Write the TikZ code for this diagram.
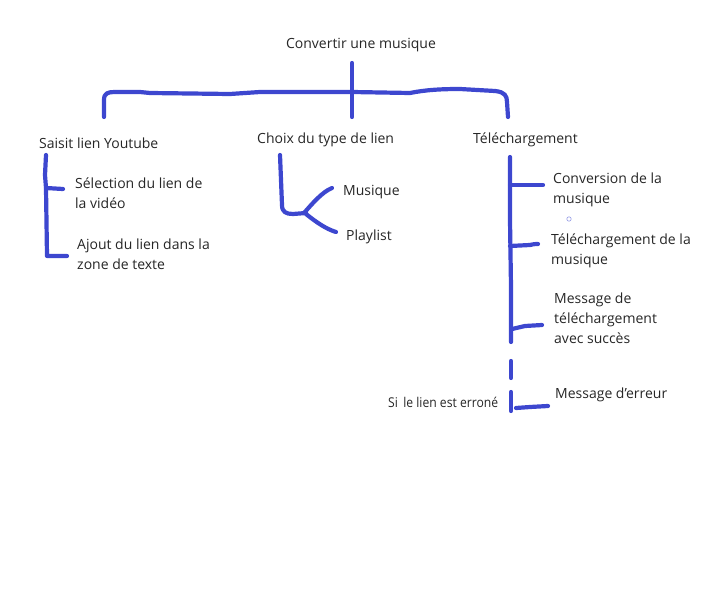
\documentclass[tikz,border=0pt]{standalone}
\usepackage{fontspec}
\setmainfont{Open Sans}
\newfontfamily\narrowfont[FakeStretch=0.9]{Open Sans}
\definecolor{pen}{HTML}{3D47CF}
\begin{document}
\begin{tikzpicture}[x=1pt,y=-1pt,
  pen/.style={draw=pen,line width=4.2pt,line cap=round,line join=round},
  lbl/.style={anchor=west,align=left,inner sep=0pt,font=\fontsize{14}{20}\selectfont,text=black!85}]
\useasboundingbox (0,0) rectangle (710,599);
% texts
\node[lbl,anchor=center] (root) at (361,45) {Convertir une musique};
\node[lbl] (saisit) at (39,143) {Saisit lien Youtube};
\node[lbl] (choix) at (257,140) {Choix du type de lien};
\node[lbl] (telech) at (473,140) {Téléchargement};
\node[lbl] (sel) at (75,193) {Sélection du lien de\\la vidéo};
\node[lbl] (ajout) at (77,254.5) {Ajout du lien dans la\\zone de texte};
\node[lbl] (mus) at (343,192) {Musique};
\node[lbl] (play) at (346,237) {Playlist};
\node[lbl] (conv) at (553,190) {Conversion de la\\musique};
\node[lbl] (tdm) at (551,251) {Téléchargement de la\\musique};
\node[lbl] (msg) at (554,318) {Message de\\téléchargement\\avec succès};
\node[lbl] (err) at (555,395) {Message d'erreur};
\node[lbl,font=\narrowfont\fontsize{13.5}{14}\selectfont] (si) at (388,402) {Si\, le lien est erroné};
% coordinates
\coordinate (rtop) at (352,63);
\coordinate (rbot) at (352,117);
\coordinate (bl) at (104,117);
\coordinate (br) at (508,117);
% top bracket
\draw[pen] (rtop) -- (rbot);
\draw[pen] (bl) -- (104,100) .. controls (104,93) and (108,92) .. (115,92)
  -- (140,92) -- (150,93) -- (230,94) -- (260,92) -- (352,92) -- (410,93)
  .. controls (425,90) and (440,89) .. (460,89) -- (495,91)
  .. controls (505,92) and (507,96) .. (507,102) -- (br);
% left bracket
\coordinate (l1) at (46,155);
\coordinate (l2) at (47,256);
\draw[pen] (l1) -- (45,175) -- (46,188) -- (47,256) -- (67,256);
\draw[pen] (46,188) -- (63,189);
% middle
\draw[pen] (280,155) -- (282,205) .. controls (282,212) and (286,214) .. (293,214) -- (306,213);
\draw[pen] (304,213) .. controls (312,204) and (322,192) .. (332,188);
\draw[pen] (306,214) .. controls (316,222) and (326,229) .. (336,232);
% right
\draw[pen] (510,157) -- (510,220) -- (511,287) -- (511,342);
\draw[pen] (510,185) -- (543,185);
\draw[pen] (510,246) -- (530,245) .. controls (534,244) and (536,244) .. (538,244);
\draw[pen] (512,329) -- (525,326) -- (542,325);
\draw[pen] (511,361) -- (511,378);
\draw[pen] (511,392) -- (511,411);
\draw[pen] (516,408) -- (530,407) -- (548,406);
\draw[draw=pen!55,line width=0.6pt] (569,219) circle (2.2);
\end{tikzpicture}
\end{document}
